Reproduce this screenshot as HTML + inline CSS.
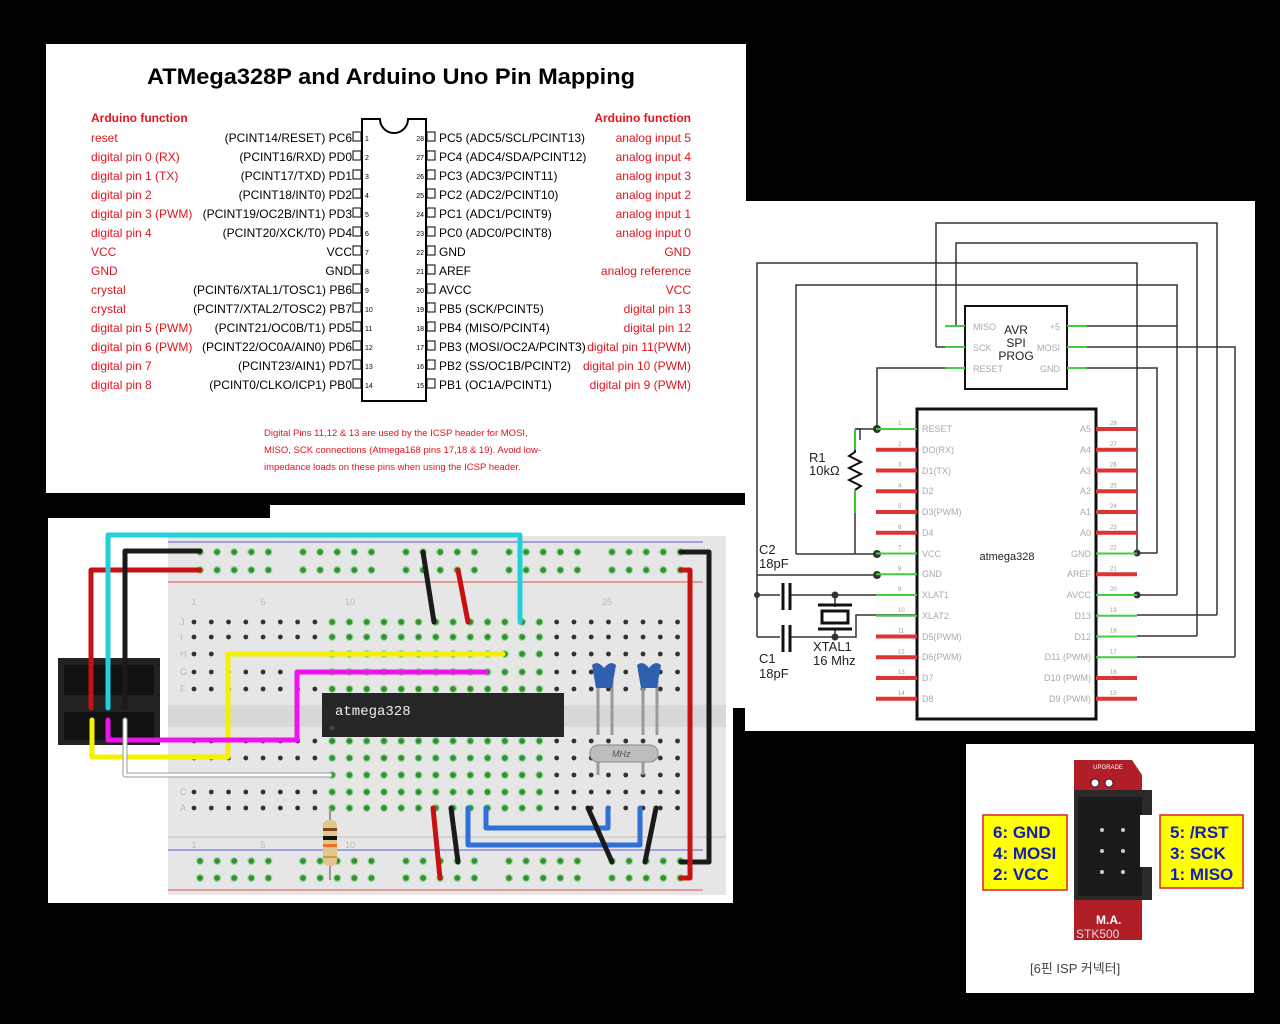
<!DOCTYPE html>
<html><head><meta charset="utf-8"><style>
html,body{margin:0;padding:0;background:#000;width:1280px;height:1024px;overflow:hidden}
svg{display:block}
.t{font-family:"Liberation Sans",sans-serif}
.r{fill:#e0141e;font-size:12px}
.k{fill:#000;font-size:12px}
.n{fill:#000;font-size:7px}
.s{font-family:"Liberation Sans",sans-serif;font-size:9px;fill:#aaa}
.sn{font-family:"Liberation Sans",sans-serif;font-size:6px;fill:#999}
</style></head><body>
<svg id="sv" width="1280" height="1024" viewBox="0 0 1280 1024" xmlns="http://www.w3.org/2000/svg">
<rect width="1280" height="1024" fill="#000"/>
<rect x="46" y="44" width="700" height="449" fill="#fff"/>
<text class="t" x="391" y="84" text-anchor="middle" font-size="22" font-weight="bold" textLength="488" lengthAdjust="spacingAndGlyphs">ATMega328P and Arduino Uno Pin Mapping</text>
<g class="t">
<text class="r" x="91" y="122" font-weight="bold">Arduino function</text>
<text class="r" x="691" y="122" font-weight="bold" text-anchor="end">Arduino function</text>
</g>
<path d="M362 119 H380 A14 14 0 0 0 408 119 H426 V401 H362 Z" fill="#fff" stroke="#000" stroke-width="2"/>
<g class="t" id="pinmap">
<text class="r" x="91" y="142">reset</text>
<text class="r" x="91" y="161">digital pin 0 (RX)</text>
<text class="r" x="91" y="180">digital pin 1 (TX)</text>
<text class="r" x="91" y="199">digital pin 2</text>
<text class="r" x="91" y="218">digital pin 3 (PWM)</text>
<text class="r" x="91" y="237">digital pin 4</text>
<text class="r" x="91" y="256">VCC</text>
<text class="r" x="91" y="275">GND</text>
<text class="r" x="91" y="294">crystal</text>
<text class="r" x="91" y="313">crystal</text>
<text class="r" x="91" y="332">digital pin 5 (PWM)</text>
<text class="r" x="91" y="351">digital pin 6 (PWM)</text>
<text class="r" x="91" y="370">digital pin 7</text>
<text class="r" x="91" y="389">digital pin 8</text>
<g text-anchor="end">
<text class="k" x="352" y="142">(PCINT14/RESET) PC6</text>
<text class="k" x="352" y="161">(PCINT16/RXD) PD0</text>
<text class="k" x="352" y="180">(PCINT17/TXD) PD1</text>
<text class="k" x="352" y="199">(PCINT18/INT0) PD2</text>
<text class="k" x="352" y="218">(PCINT19/OC2B/INT1) PD3</text>
<text class="k" x="352" y="237">(PCINT20/XCK/T0) PD4</text>
<text class="k" x="352" y="256">VCC</text>
<text class="k" x="352" y="275">GND</text>
<text class="k" x="352" y="294">(PCINT6/XTAL1/TOSC1) PB6</text>
<text class="k" x="352" y="313">(PCINT7/XTAL2/TOSC2) PB7</text>
<text class="k" x="352" y="332">(PCINT21/OC0B/T1) PD5</text>
<text class="k" x="352" y="351">(PCINT22/OC0A/AIN0) PD6</text>
<text class="k" x="352" y="370">(PCINT23/AIN1) PD7</text>
<text class="k" x="352" y="389">(PCINT0/CLKO/ICP1) PB0</text>
<text class="r" x="691" y="142">analog input 5</text>
<text class="r" x="691" y="161">analog input 4</text>
<text class="r" x="691" y="180">analog input 3</text>
<text class="r" x="691" y="199">analog input 2</text>
<text class="r" x="691" y="218">analog input 1</text>
<text class="r" x="691" y="237">analog input 0</text>
<text class="r" x="691" y="256">GND</text>
<text class="r" x="691" y="275">analog reference</text>
<text class="r" x="691" y="294">VCC</text>
<text class="r" x="691" y="313">digital pin 13</text>
<text class="r" x="691" y="332">digital pin 12</text>
<text class="r" x="691" y="351">digital pin 11(PWM)</text>
<text class="r" x="691" y="370">digital pin 10 (PWM)</text>
<text class="r" x="691" y="389">digital pin 9 (PWM)</text>
<text class="n" x="424" y="141">28</text><text class="n" x="424" y="160">27</text><text class="n" x="424" y="179">26</text><text class="n" x="424" y="198">25</text><text class="n" x="424" y="217">24</text><text class="n" x="424" y="236">23</text><text class="n" x="424" y="255">22</text><text class="n" x="424" y="274">21</text><text class="n" x="424" y="293">20</text><text class="n" x="424" y="312">19</text><text class="n" x="424" y="331">18</text><text class="n" x="424" y="350">17</text><text class="n" x="424" y="369">16</text><text class="n" x="424" y="388">15</text>
</g>
<text class="k" x="439" y="142">PC5 (ADC5/SCL/PCINT13)</text>
<text class="k" x="439" y="161">PC4 (ADC4/SDA/PCINT12)</text>
<text class="k" x="439" y="180">PC3 (ADC3/PCINT11)</text>
<text class="k" x="439" y="199">PC2 (ADC2/PCINT10)</text>
<text class="k" x="439" y="218">PC1 (ADC1/PCINT9)</text>
<text class="k" x="439" y="237">PC0 (ADC0/PCINT8)</text>
<text class="k" x="439" y="256">GND</text>
<text class="k" x="439" y="275">AREF</text>
<text class="k" x="439" y="294">AVCC</text>
<text class="k" x="439" y="313">PB5 (SCK/PCINT5)</text>
<text class="k" x="439" y="332">PB4 (MISO/PCINT4)</text>
<text class="k" x="439" y="351">PB3 (MOSI/OC2A/PCINT3)</text>
<text class="k" x="439" y="370">PB2 (SS/OC1B/PCINT2)</text>
<text class="k" x="439" y="389">PB1 (OC1A/PCINT1)</text>
<text class="n" x="365" y="141">1</text><text class="n" x="365" y="160">2</text><text class="n" x="365" y="179">3</text><text class="n" x="365" y="198">4</text><text class="n" x="365" y="217">5</text><text class="n" x="365" y="236">6</text><text class="n" x="365" y="255">7</text><text class="n" x="365" y="274">8</text><text class="n" x="365" y="293">9</text><text class="n" x="365" y="312">10</text><text class="n" x="365" y="331">11</text><text class="n" x="365" y="350">12</text><text class="n" x="365" y="369">13</text><text class="n" x="365" y="388">14</text>
<text x="264" y="436" fill="#e0141e" font-size="9.5">Digital Pins 11,12 &amp; 13 are used by the ICSP header for MOSI,</text>
<text x="264" y="453" fill="#e0141e" font-size="9.5">MISO, SCK connections (Atmega168  pins 17,18 &amp; 19). Avoid low-</text>
<text x="264" y="470" fill="#e0141e" font-size="9.5">impedance loads on these pins when  using the ICSP header.</text>
</g>
<g id="boxes" fill="#fff" stroke="#000" stroke-width="1"></g>

<path d="M270 505 H745 V708 H733 V903 H48 V518 H270 Z" fill="#fff"/>
<rect x="168" y="536" width="558" height="359" fill="#e6e6e6"/>
<rect x="168" y="705" width="558" height="22" fill="#d8d8d8"/>
<rect x="168" y="836" width="558" height="2" fill="#d2d2d2"/>
<line x1="168" y1="542" x2="703" y2="542" stroke="#5a5ae0" stroke-width="1"/>
<line x1="168" y1="582" x2="703" y2="582" stroke="#e05050" stroke-width="1"/>
<line x1="168" y1="850" x2="703" y2="850" stroke="#5a5ae0" stroke-width="1"/>
<line x1="168" y1="890" x2="703" y2="890" stroke="#e05050" stroke-width="1"/>
<g id="dots"></g>
<g class="t" font-size="9" fill="#bbb">
<text x="194" y="605" text-anchor="middle">1</text><text x="263" y="605" text-anchor="middle">5</text><text x="350" y="605" text-anchor="middle">10</text><text x="607" y="605" text-anchor="middle">25</text>
<text x="194" y="848" text-anchor="middle">1</text><text x="263" y="848" text-anchor="middle">5</text><text x="350" y="848" text-anchor="middle">10</text>
<text x="180" y="625">J</text><text x="180" y="640">I</text><text x="180" y="657">H</text><text x="180" y="675">G</text><text x="180" y="692">F</text>
<text x="180" y="795">C</text><text x="180" y="811">A</text>
</g>
<rect x="322" y="693" width="242" height="44" fill="#262626"/>
<circle cx="332" cy="728" r="2.5" fill="#444"/>
<text x="335" y="715" fill="#eee" font-family="Liberation Mono,monospace" font-size="14">atmega328</text>
<rect x="58" y="658" width="102" height="87" fill="#222"/>
<rect x="64" y="665" width="90" height="30" fill="#111"/>
<rect x="64" y="712" width="90" height="28" fill="#111"/>
<g stroke="#999" stroke-width="3" fill="none">
<path d="M598 680 V735"/><path d="M612 680 V735"/><path d="M643 680 V735"/><path d="M657 680 V735"/>
<path d="M598 760 V775"/><path d="M643 760 V775"/>
</g>
<rect x="590" y="745" width="68" height="17" rx="8" fill="#bdbdbd" stroke="#888"/>
<text x="612" y="757" font-family="Liberation Sans,sans-serif" font-size="9" font-style="italic" fill="#555">MHz</text>
<path d="M592 665 Q598 660 604 668 Q610 660 616 665 L612 688 H596 Z" fill="#2f5fb0"/>
<path d="M637 665 Q643 660 649 668 Q655 660 661 665 L657 688 H641 Z" fill="#2f5fb0"/>
<line x1="330" y1="808" x2="330" y2="880" stroke="#999" stroke-width="2"/>
<rect x="323" y="820" width="14" height="46" rx="5" fill="#e2c58f"/>
<rect x="323" y="828" width="14" height="3" fill="#7a4a1a"/><rect x="323" y="836" width="14" height="4" fill="#111"/><rect x="323" y="844" width="14" height="3" fill="#f07020"/><rect x="323" y="856" width="14" height="2" fill="#c9a040"/>
<g fill="none" stroke-linecap="round" stroke-linejoin="round" stroke-width="5">
<path d="M91 708 V570 H200" stroke="#c81010"/>
<path d="M125 708 V551 H200" stroke="#1a1a1a"/>
<path d="M108 708 V535 H520 V622" stroke="#22d0d8"/>
<path d="M423 552 L434 622" stroke="#1a1a1a"/>
<path d="M458 570 L468 622" stroke="#c81010"/>
<path d="M92 720 V757 H228 V654 H503" stroke="#f5f000"/>
<path d="M108 720 V740 H297 V672 H486" stroke="#f010f0"/>
<path d="M125 720 V775 H330" stroke="#9a9a9a"/>
<path d="M125 720 V775 H330" stroke="#fff" stroke-width="3"/>
<path d="M681 552 H709 V862 H681" stroke="#1a1a1a"/>
<path d="M681 570 H690 V878 H681" stroke="#c81010"/>
<path d="M433 808 L440 878" stroke="#c81010"/>
<path d="M451 808 L458 862" stroke="#1a1a1a"/>
<path d="M468 808 V845 H640 V808" stroke="#2f6fd8"/>
<path d="M486 808 V828 H608 V808" stroke="#2f6fd8"/>
<path d="M588 808 L612 862" stroke="#1a1a1a"/>
<path d="M656 808 L645 862" stroke="#1a1a1a"/>
</g>

<rect x="745" y="201" width="510" height="530" fill="#fff"/>
<g fill="none" stroke="#333" stroke-width="1.5">
<path d="M936 347 V223 H1217 V615"/>
<path d="M956 326 V243 H1197 V636"/>
<path d="M757 637 V263 H1137 V553"/>
<path d="M796 554 V285 H1177 V595"/>
<path d="M1087 326 H1177"/>
<path d="M1087 347 H1235 V657"/>
<path d="M1087 368 H1157 V553"/>
<path d="M965 368 H877 V429"/>
<path d="M855 429 H917"/>
<path d="M796 554 H877"/>
<path d="M757 575 H877"/>
<path d="M757 595 H780 M790 595 H917"/>
<path d="M757 637 H780 M790 637 H835"/>
<path d="M917 615 H856 V637 H835"/>
<path d="M835 595 V607 M835 630 V637"/>
<path d="M1137 553 H1157"/>
<path d="M1137 595 H1177"/>
<path d="M1137 615 H1217 M1137 636 H1197 M1137 657 H1235"/>
<path d="M936 347 H965 M956 326 H965"/>
</g>
<g stroke="#111" stroke-width="3">
<path d="M783 583 V610 M790 583 V610 M783 625 V652 M790 625 V652"/>
</g>
<rect x="822" y="611" width="26" height="12" fill="none" stroke="#111" stroke-width="3"/>
<path d="M818 605 H852 M818 629 H852" stroke="#111" stroke-width="3"/>
<path d="M855 429 H860 V440 M855 490 V513 V554" stroke="#333" fill="none" stroke-width="1.5"/>
<path d="M855 440 V452 L849 456 L861 462 L849 468 L861 474 L849 480 L861 486 L855 490" stroke="#111" fill="none" stroke-width="2"/>
<path d="M855 429 V450" stroke="#3c3" stroke-width="2"/>
<path d="M855 490 V513" stroke="#3c3" stroke-width="2"/>
<g fill="#333"><circle cx="877" cy="429" r="4"/><circle cx="877" cy="554" r="4"/><circle cx="877" cy="575" r="4"/><circle cx="757" cy="595" r="3"/><circle cx="835" cy="595" r="3.5"/><circle cx="835" cy="637" r="3.5"/><circle cx="1137" cy="553" r="3.5"/><circle cx="1137" cy="595" r="3.5"/></g>
<rect x="965" y="306" width="102" height="83" fill="#fff" stroke="#111" stroke-width="2"/>
<g stroke="#4c4" stroke-width="2"><path d="M945 326 H965 M945 347 H965 M945 368 H965 M1067 326 H1087 M1067 347 H1087 M1067 368 H1087"/></g>
<g class="s">
<text x="973" y="330">MISO</text><text x="973" y="351">SCK</text><text x="973" y="372">RESET</text>
<text x="1060" y="330" text-anchor="end">+5</text><text x="1060" y="351" text-anchor="end">MOSI</text><text x="1060" y="372" text-anchor="end">GND</text>
</g>
<g class="t" font-size="12" fill="#222" text-anchor="middle"><text x="1016" y="334">AVR</text><text x="1016" y="347">SPI</text><text x="1016" y="360">PROG</text></g>
<rect x="917" y="409" width="179" height="310" fill="#fff" stroke="#111" stroke-width="3"/>
<g id="spins"></g>
<text x="1007" y="560" class="t" font-size="11" fill="#222" text-anchor="middle">atmega328</text>
<g class="s" id="slab">
<text x="922" y="432">RESET</text><text x="922" y="453">DO(RX)</text><text x="922" y="474">D1(TX)</text><text x="922" y="494">D2</text><text x="922" y="515">D3(PWM)</text><text x="922" y="536">D4</text><text x="922" y="557">VCC</text><text x="922" y="577">GND</text><text x="922" y="598">XLAT1</text><text x="922" y="619">XLAT2</text><text x="922" y="640">D5(PWM)</text><text x="922" y="660">D6(PWM)</text><text x="922" y="681">D7</text><text x="922" y="702">D8</text>
<g text-anchor="end"><text x="1091" y="432">A5</text><text x="1091" y="453">A4</text><text x="1091" y="474">A3</text><text x="1091" y="494">A2</text><text x="1091" y="515">A1</text><text x="1091" y="536">A0</text><text x="1091" y="557">GND</text><text x="1091" y="577">AREF</text><text x="1091" y="598">AVCC</text><text x="1091" y="619">D13</text><text x="1091" y="640">D12</text><text x="1091" y="660">D11 (PWM)</text><text x="1091" y="681">D10 (PWM)</text><text x="1091" y="702">D9 (PWM)</text></g>
</g>
<g class="t" font-size="13" fill="#222">
<text x="809" y="462">R1</text><text x="809" y="475">10kΩ</text>
<text x="759" y="554">C2</text><text x="759" y="568">18pF</text>
<text x="759" y="663">C1</text><text x="759" y="678">18pF</text>
<text x="813" y="651">XTAL1</text><text x="813" y="665">16 Mhz</text>
</g>

<rect x="966" y="744" width="288" height="249" fill="#fff"/>
<path d="M1074 760 H1132 L1142 775 V940 H1074 Z" fill="#b01e28"/>
<text x="1108" y="769" font-family="Liberation Sans,sans-serif" font-size="6" fill="#fff" text-anchor="middle">UPGRADE</text>
<circle cx="1095" cy="783" r="4" fill="#fff" stroke="#222"/><circle cx="1109" cy="783" r="4" fill="#fff" stroke="#222"/>
<rect x="1074" y="790" width="78" height="110" fill="#2a2a2a"/>
<rect x="1078" y="797" width="64" height="99" fill="#1a1a1a"/>
<rect x="1140" y="815" width="12" height="52" fill="#fff"/>
<g fill="#ccc"><circle cx="1102" cy="830" r="2"/><circle cx="1123" cy="830" r="2"/><circle cx="1102" cy="851" r="2"/><circle cx="1123" cy="851" r="2"/><circle cx="1102" cy="872" r="2"/><circle cx="1123" cy="872" r="2"/></g>
<text x="1096" y="924" font-family="Liberation Sans,sans-serif" font-size="12" font-weight="bold" fill="#fff">M.A.</text>
<text x="1076" y="938" font-family="Liberation Sans,sans-serif" font-size="12" fill="#ddd">STK500</text>
<rect x="983" y="815" width="84" height="75" fill="#ffff00" stroke="#e02020" stroke-width="1.5"/>
<rect x="1160" y="815" width="83" height="73" fill="#ffff00" stroke="#e02020" stroke-width="1.5"/>
<g font-family="Liberation Sans,sans-serif" font-size="17" font-weight="bold" fill="#1020b0">
<text x="993" y="838">6: GND</text><text x="993" y="859">4: MOSI</text><text x="993" y="880">2: VCC</text>
<text x="1170" y="838">5: /RST</text><text x="1170" y="859">3: SCK</text><text x="1170" y="880">1: MISO</text>
</g>
<text x="1030" y="973" font-family="Liberation Sans,'Noto Sans CJK KR',sans-serif" font-size="13" fill="#444">[6핀 ISP 커넥터]</text>
</svg>
<script>
var NS="http://www.w3.org/2000/svg";
function el(p,t,a){var e=document.createElementNS(NS,t);for(var k in a)e.setAttribute(k,a[k]);p.appendChild(e);return e;}
var bx=document.getElementById('boxes');
for(var i=0;i<14;i++){var y=132+i*19;el(bx,'rect',{x:353,y:y,width:8,height:9});el(bx,'rect',{x:427,y:y,width:8,height:9});}
var d=document.getElementById('dots');
function dot(x,y,g){el(d,'circle',{cx:x,cy:y,r:g?3.4:2.4,fill:g?'#3a8a3a':'#333',stroke:g?'#8ee08e':'none','stroke-width':g?1.2:0});}
[552,570,861,878].forEach(function(y){for(var g=0;g<5;g++)for(var j=0;j<5;j++)dot(200+g*103+j*17.1,y,true);});
[622,637,654,672,689,741,758,775,792,808].forEach(function(y){for(var c=0;c<29;c++){var x=194+c*17.27;dot(x,y,c>=8&&c<=20);}});
var sp=document.getElementById('spins');
var lg=[1,0,0,0,0,0,1,1,1,1,0,0,0,0], rg=[0,0,0,0,0,0,1,0,1,1,1,1,0,0];
for(var i=0;i<14;i++){var y=429+i*20.75;
el(sp,'line',{x1:876,y1:y,x2:917,y2:y,stroke:lg[i]?'#4c4':'#d33','stroke-width':lg[i]?2:4});
el(sp,'line',{x1:1096,y1:y,x2:1137,y2:y,stroke:rg[i]?'#4c4':'#d33','stroke-width':rg[i]?2:4});
var t=el(sp,'text',{x:898,y:y-4,'class':'sn'});t.textContent=(i+1);
var t2=el(sp,'text',{x:1110,y:y-4,'class':'sn'});t2.textContent=(28-i);}
</script>
</body></html>
